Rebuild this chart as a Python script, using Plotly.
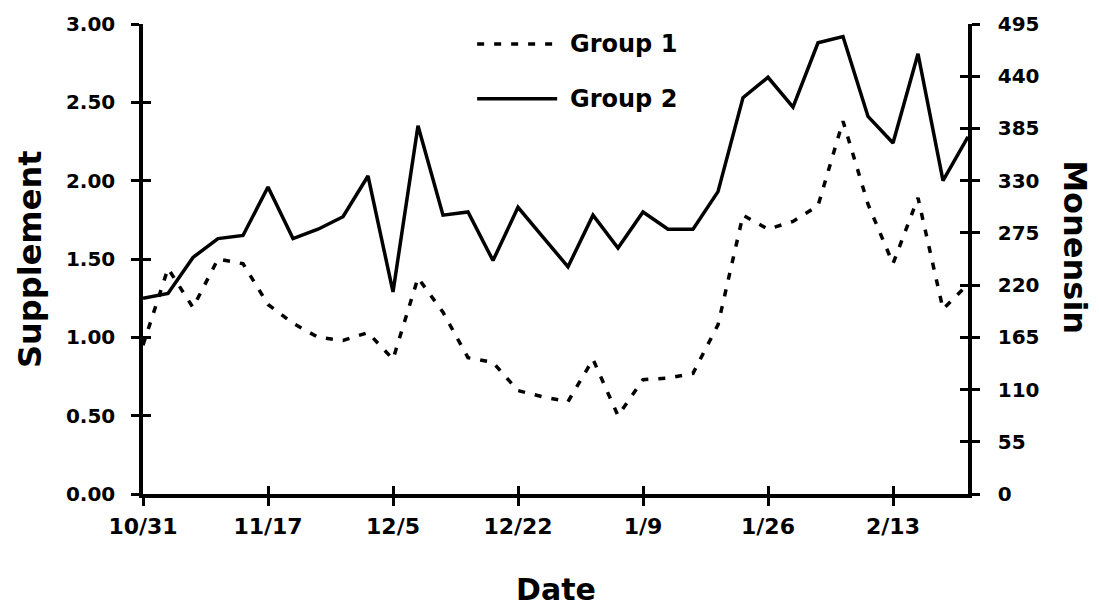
import plotly.graph_objects as go

# sample index (twice-weekly samplings), tick labels every 5th sample
tick_labels = ["10/31", "11/17", "12/5", "12/22", "1/9", "1/26", "2/13"]
tick_step = 5

group1 = [0.95, 1.44, 1.19, 1.50, 1.47, 1.21, 1.09, 1.00, 0.98, 1.03,
          0.86, 1.38, 1.16, 0.87, 0.84, 0.66, 0.62, 0.59, 0.86, 0.50,
          0.73, 0.74, 0.77, 1.08, 1.78, 1.69, 1.74, 1.84, 2.38, 1.85,
          1.47, 1.89, 1.18, 1.34]
group2 = [1.25, 1.28, 1.51, 1.63, 1.65, 1.96, 1.63, 1.69, 1.77, 2.03,
          1.29, 2.35, 1.78, 1.80, 1.49, 1.83, 1.64, 1.45, 1.78, 1.57,
          1.80, 1.69, 1.69, 1.93, 2.53, 2.66, 2.47, 2.88, 2.92, 2.41,
          2.24, 2.81, 2.00, 2.28]

supp_ticks = [0, 0.5, 1.0, 1.5, 2.0, 2.5, 3.0]
mon_ticks = [0, 55, 110, 165, 220, 275, 330, 385, 440, 495]

x = list(range(len(group1)))
tickvals = [i * tick_step for i in range(len(tick_labels))]

FONT = "DejaVu Sans"
DASH = "7px,10px"

fig = go.Figure()
fig.add_trace(go.Scatter(x=x, y=group1, mode="lines", name="Group 1",
                         line=dict(color="black", width=3.5, dash=DASH),
                         showlegend=False))
fig.add_trace(go.Scatter(x=x, y=group2, mode="lines", name="Group 2",
                         line=dict(color="black", width=3.5),
                         showlegend=False))

tickfont = dict(family=FONT, size=20, color="black", weight="bold")
xtickfont = dict(family=FONT, size=22, color="black", weight="bold")

fig.update_layout(
    width=1099, height=606,
    margin=dict(l=143, r=131, t=22, b=112),
    paper_bgcolor="white", plot_bgcolor="white",
    xaxis=dict(range=[0, len(group1) - 1], tickmode="array", tickvals=tickvals,
               ticktext=tick_labels, ticks="outside", ticklen=8, tickwidth=2.5,
               tickcolor="black", showline=True, linewidth=3.5, linecolor="black",
               showgrid=False, zeroline=False, tickfont=xtickfont,
               ticklabelstandoff=2),
    xaxis2=dict(range=[0, len(group1) - 1], overlaying="x", side="bottom",
                tickmode="array", tickvals=tickvals, ticks="inside", ticklen=8,
                tickwidth=2.5, tickcolor="black", showticklabels=False,
                showgrid=False, zeroline=False, showline=False),
    yaxis=dict(range=[0, 3], tickmode="array", tickvals=supp_ticks,
               tickformat=".2f", ticks="outside", ticklen=8, tickwidth=2.5,
               tickcolor="black", showline=True, linewidth=3.5, linecolor="black",
               showgrid=False, zeroline=False, tickfont=tickfont,
               ticklabelstandoff=12),
    yaxis2=dict(range=[0, 495], tickmode="array", tickvals=mon_ticks,
                overlaying="y", side="right", anchor="x",
                ticks="outside", ticklen=8, tickwidth=2.5, tickcolor="black",
                showline=True, linewidth=3.5, linecolor="black",
                showgrid=False, zeroline=False, tickfont=tickfont,
                ticklabelstandoff=14),
    yaxis3=dict(range=[0, 3], tickmode="array", tickvals=supp_ticks,
                overlaying="y", side="left", anchor="x", ticks="inside",
                ticklen=8, tickwidth=2.5, tickcolor="black",
                showticklabels=False, showgrid=False, zeroline=False),
    yaxis4=dict(range=[0, 495], tickmode="array", tickvals=mon_ticks,
                overlaying="y", side="right", anchor="x", ticks="inside",
                ticklen=8, tickwidth=2.5, tickcolor="black",
                showticklabels=False, showgrid=False, zeroline=False),
)

# empty traces to register the overlay axes
fig.add_trace(go.Scatter(x=[], y=[], xaxis="x2", yaxis="y3", showlegend=False))
fig.add_trace(go.Scatter(x=[], y=[], yaxis="y2", showlegend=False))
fig.add_trace(go.Scatter(x=[], y=[], yaxis="y4", showlegend=False))

# axis titles
titlefont = dict(family=FONT, size=32, color="black", weight="bold")
fig.add_annotation(text="Supplement", xref="paper", yref="paper",
                   x=-0.137, y=0.5, textangle=-90, showarrow=False,
                   font=titlefont, xanchor="center", yanchor="middle")
fig.add_annotation(text="Monensin", xref="paper", yref="paper",
                   x=1.1297, y=0.525, textangle=90, showarrow=False,
                   font=titlefont, xanchor="center", yanchor="middle")
fig.add_annotation(text="Date", xref="paper", yref="paper",
                   x=0.5, y=-0.203, showarrow=False,
                   font=dict(family=FONT, size=30, color="black", weight="bold"),
                   xanchor="center", yanchor="middle")

# legend (drawn manually to match long line samples)
legfont = dict(family=FONT, size=24, color="black", weight="bold")
for name, dash, ypos in [("Group 1", DASH, 0.9576), ("Group 2", "solid", 0.841)]:
    fig.add_shape(type="line", xref="paper", yref="paper",
                  x0=0.405, x1=0.502, y0=ypos, y1=ypos,
                  line=dict(color="black", width=3.5, dash=dash))
    fig.add_annotation(text=name, xref="paper", yref="paper",
                       x=0.515, y=ypos, showarrow=False, font=legfont,
                       xanchor="left", yanchor="middle")

fig.write_html("out.html", config={"displayModeBar": False},
               post_script="document.body.style.margin='0';document.body.style.padding='0';")
